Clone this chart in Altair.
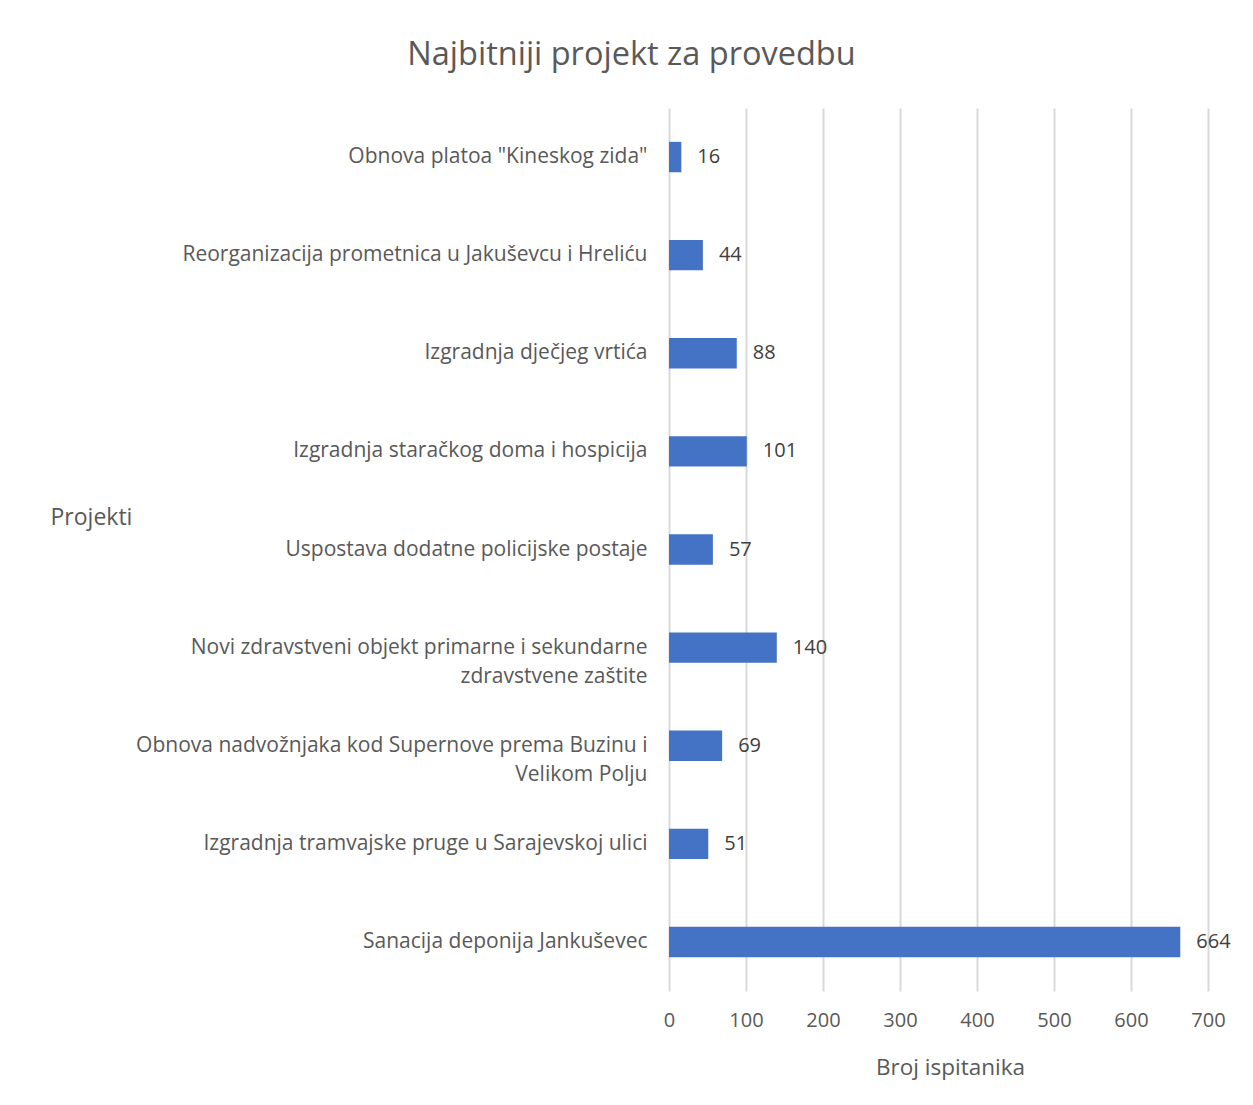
import altair as alt
import pandas as pd

projects = [
    "Obnova platoa \"Kineskog zida\"",
    "Reorganizacija prometnica u Jakuševcu i Hreliću",
    "Izgradnja dječjeg vrtića",
    "Izgradnja staračkog doma i hospicija",
    "Uspostava dodatne policijske postaje",
    "Novi zdravstveni objekt primarne i sekundarne\nzdravstvene zaštite",
    "Obnova nadvožnjaka kod Supernove prema Buzinu i\nVelikom Polju",
    "Izgradnja tramvajske pruge u Sarajevskoj ulici",
    "Sanacija deponija Jankuševec",
]
counts = [16, 44, 88, 101, 57, 140, 69, 51, 664]
x_ticks = [0, 100, 200, 300, 400, 500, 600, 700]

df = pd.DataFrame({"Projekt": projects, "Broj": counts})

FONT = "Open Sans"
GREY = "#595959"

y_enc = alt.Y(
    "Projekt:N",
    sort=projects,
    scale=alt.Scale(paddingInner=0.69, paddingOuter=0.345),
    axis=alt.Axis(
        title="Projekti",
        titleAngle=0,
        titleAlign="left",
        titleBaseline="middle",
        titleX=-619,
        titleY=409,
        titleFont=FONT,
        titleFontSize=23,
        titleFontWeight="normal",
        titleColor=GREY,
        labelFont=FONT,
        labelFontSize=21,
        labelColor=GREY,
        labelLimit=700,
        labelPadding=22,
        labelLineHeight=29,
        labelExpr="split(datum.label, '\\n')",
        ticks=False,
        domain=False,
        grid=False,
    ),
)

x_enc = alt.X(
    "Broj:Q",
    scale=alt.Scale(domain=[0, 700], nice=False),
    axis=alt.Axis(
        title="Broj ispitanika",
        values=x_ticks,
        titleFont=FONT,
        titleFontSize=22.5,
        titleFontWeight="normal",
        titleColor=GREY,
        titlePadding=26,
        titleX=281,
        labelFont=FONT,
        labelFontSize=20,
        labelColor=GREY,
        labelPadding=19,
        labelFlush=False,
        ticks=False,
        domain=False,
        grid=True,
        gridColor="#d9d9d9",
        gridWidth=2,
    ),
)

bars = alt.Chart(df).mark_bar(color="#4472C4").encode(x=x_enc, y=y_enc)

labels = alt.Chart(df).mark_text(
    align="left", baseline="middle", dx=16, font=FONT, fontSize=20, color="#404040"
).encode(x="Broj:Q", y=alt.Y("Projekt:N", sort=projects), text="Broj:Q")

chart = (
    alt.layer(bars, labels)
    .properties(
        width=539,
        height=883,
        background="white",
        autosize=alt.AutoSizeParams(type="none"),
        padding={"left": 661, "top": 100, "right": 37, "bottom": 97},
        title=alt.TitleParams(
            "Najbitniji projekt za provedbu",
            font=FONT,
            fontSize=32.5,
            fontWeight="normal",
            color=GREY,
            anchor="middle",
            dx=-307,
            offset=37,
        ),
    )
    .configure_view(stroke="transparent", strokeWidth=0)
)

chart.save("out.html", embed_options={"renderer": "svg", "actions": False})
